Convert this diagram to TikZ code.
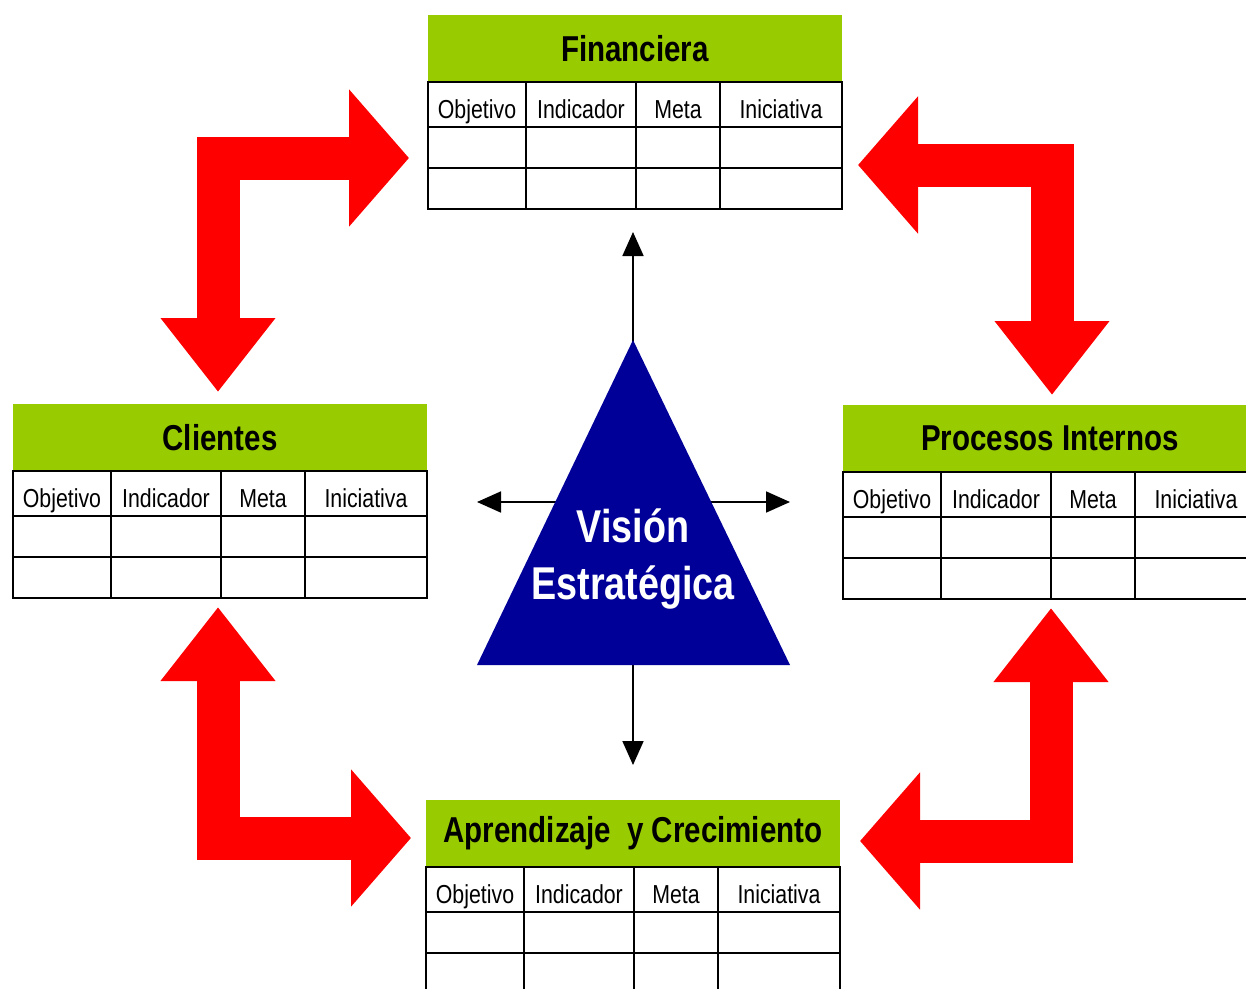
\documentclass[tikz,border=0pt]{standalone}
\usepackage{fontspec}
\setmainfont{Liberation Sans}[FakeStretch=0.82]
\usetikzlibrary{positioning,arrows.meta}

\definecolor{bscgreen}{RGB}{153,204,0}
\definecolor{bscblue}{RGB}{0,0,153}
\definecolor{bscred}{RGB}{255,0,0}

\tikzset{
    header/.style={fill=bscgreen, minimum width=414pt, minimum height=67pt,
        inner sep=0pt, outer sep=0pt, font=\fontsize{36}{40}\selectfont\bfseries},
    cell/.style={draw=black, line width=1.5pt, minimum height=#1, inner sep=0pt,
        outer sep=0pt, text height=28pt, text depth=0pt, font=\fontsize{26}{30}\selectfont},
    cell/.default=41pt,
    bigarrow/.style={draw=bscred, line width=43pt, line join=miter,
        {Triangle[length=74pt,width=110pt]}-{Triangle[length=60pt,width=134pt]}},
    thinarrow/.style={draw=black, line width=1.8pt, -{Triangle[length=24pt,width=21pt]}}
}

% one perspective: green title and 3 rows of cells
\newcommand{\bsctable}[4]{%
    \node[header, anchor=north west] (#1) at (#2,#3) {#4};
    \node[cell=45pt, minimum width=98pt, anchor=north west] (#1-o1) at (#1.south west) {Objetivo};
    \node[cell=45pt, minimum width=110pt, right=0pt of #1-o1] (#1-i1) {Indicador};
    \node[cell=45pt, minimum width=84pt, right=0pt of #1-i1] (#1-m1) {Meta};
    \node[cell=45pt, minimum width=122pt, right=0pt of #1-m1] (#1-n1) {Iniciativa};
    \foreach \p/\r in {1/2,2/3} {
        \node[cell, minimum width=98pt, below=0pt of #1-o\p] (#1-o\r) {};
        \node[cell, minimum width=110pt, below=0pt of #1-i\p] (#1-i\r) {};
        \node[cell, minimum width=84pt, below=0pt of #1-m\p] (#1-m\r) {};
        \node[cell, minimum width=122pt, below=0pt of #1-n\p] (#1-n\r) {};
    }
}

\begin{document}
\begin{tikzpicture}[x=1pt, y=-1pt]
    \useasboundingbox (0,0) rectangle (1246,988);

    % perspectives
    \bsctable{fin}{428}{15}{Financiera}
    \bsctable{cli}{13}{404}{Clientes}
    \bsctable{pro}{843}{405}{Procesos Internos}
    \bsctable{apr}{426}{800}{Aprendizaje\ \ y Crecimiento}

    % red links between perspectives
    \coordinate (cli-top) at (218,392);
    \coordinate (fin-left) at (409,158);
    \coordinate (pro-top) at (1052,395);
    \coordinate (fin-right) at (858,165);
    \coordinate (cli-bottom) at (218,607);
    \coordinate (apr-left) at (411,838);
    \coordinate (pro-bottom) at (1051,608);
    \coordinate (apr-right) at (860,841);
    \draw[bigarrow] (cli-top) |- (fin-left);
    \draw[bigarrow] (pro-top) |- (fin-right);
    \draw[bigarrow] (cli-bottom) |- (apr-left);
    \draw[bigarrow] (pro-bottom) |- (apr-right);

    % vision in the middle
    \coordinate (vc) at (633,502);
    \coordinate (v-up) at (633,232);
    \coordinate (v-down) at (633,765);
    \coordinate (v-left) at (477,502);
    \coordinate (v-right) at (790,502);
    \foreach \t in {v-up,v-down,v-left,v-right}
        \draw[thinarrow] (vc) -- (\t);
    \coordinate (apex) at (633,340);
    \coordinate (base-l) at (477,665);
    \coordinate (base-r) at (790,665);
    \fill[bscblue] (apex) -- (base-l) -- (base-r) -- cycle;
    \node[text=white, align=center, inner sep=0pt,
        font=\fontsize{46}{57}\selectfont\bfseries] (vision) at (633,559) {Visión\\Estratégica};
\end{tikzpicture}
\end{document}
